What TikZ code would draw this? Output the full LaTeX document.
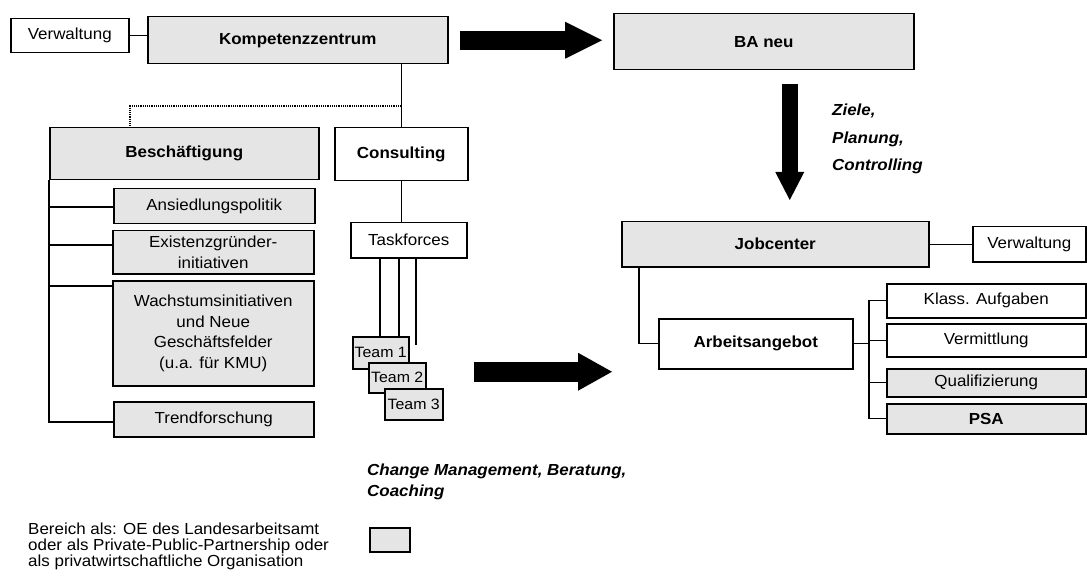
\documentclass[tikz,border=0pt]{standalone}
\usepackage{fontspec}
\setmainfont[FakeStretch=1.06]{Liberation Sans}
\usetikzlibrary{calc,arrows.meta}
\begin{document}
\begin{tikzpicture}[x=1pt,y=-1pt,
  base/.style={draw=black, line width=1.5pt, anchor=north west, inner sep=0pt,
    align=center, font=\fontsize{16}{20.7}\selectfont},
  plainbox/.style={base, fill=white},
  greybox/.style={base, fill=black!10},
  bf/.style={font=\fontsize{16}{20.7}\selectfont\bfseries},
  conn/.style={line width=1.2pt},
  dotline/.style={line width=1.2pt, densely dotted},
  bigarrow/.style args={#1/#2/#3}{line width=#1,
    -{Triangle[width=#2, length=#3, line width=0pt]}},
  note/.style={anchor=north west, inner sep=0pt, align=left},
]
\useasboundingbox (0,0) rectangle (1087,580);

% ---- Kompetenzzentrum side ----
\node[plainbox, minimum width=118pt, minimum height=34pt] (verwA) at (10,18) {Verwaltung};
\node[greybox, bf, minimum width=300pt, minimum height=47pt] (kz) at (147,16) {Kompetenzzentrum};
\node[greybox, bf, minimum width=269pt, minimum height=52pt] (bes) at (49,127) {Beschäftigung};
\node[plainbox, bf, minimum width=133pt, minimum height=53pt] (cons) at (334,127) {Consulting};

\node[greybox, minimum width=201pt, minimum height=35pt] (ans) at (113,188) {Ansiedlungspolitik};
\node[greybox, minimum width=201pt, minimum height=43pt] (exi) at (112,230) {Existenzgründer-\\initiativen};
\node[greybox, minimum width=201pt, minimum height=105pt] (wach) at (112,280)
  {Wachstumsinitiativen\\und Neue\\Geschäftsfelder\\(u.a. für KMU)};
\node[greybox, minimum width=200pt, minimum height=35pt] (trend) at (113,401) {Trendforschung};

\node[plainbox, minimum width=116pt, minimum height=35pt] (task) at (350,222) {Taskforces};
\node[greybox, font=\fontsize{15}{18}\selectfont, minimum width=56pt, minimum height=32pt] (team1) at (352,336) {Team 1};
\node[greybox, font=\fontsize{15}{18}\selectfont, minimum width=57pt, minimum height=30pt] (team2) at (368,362) {Team 2};
\node[greybox, font=\fontsize{15}{18}\selectfont, minimum width=58pt, minimum height=31pt] (team3) at (384,388) {Team 3};

% connectors, left part
\draw[conn] (verwA.east) -- (verwA.east -| kz.west);
\draw[conn] (cons.north) -- (cons.north |- kz.south);
\coordinate (dt) at (130,106);
\draw[dotline] (cons.north |- dt) -- (dt) -- (dt |- bes.north);
\draw[conn] (cons.south) -- (cons.south |- task.north);

\coordinate (busEnd) at (49,422);
\coordinate (bA) at (49,207);
\coordinate (bE) at (49,245);
\coordinate (bW) at (49,286);
\draw[conn] (bes.south west) -- (busEnd) -- (busEnd -| trend.west);
\draw[conn] (bA) -- (bA -| ans.west);
\draw[conn] (bE) -- (bE -| exi.west);
\draw[conn] (bW) -- (bW -| wach.west);

\coordinate (tA) at (380,257);
\coordinate (tB) at (399,257);
\coordinate (tC) at (416,257);
\coordinate (tCend) at (416,345);
\draw[conn] (tA) -- (tA |- team1.north);
\draw[conn] (tB) -- (tB |- team1.north);
\draw[conn] (tC) -- (tCend);

% ---- BA side ----
\node[greybox, bf, minimum width=300pt, minimum height=56pt] (ba) at (613,13) {BA neu};
\node[greybox, bf, minimum width=307pt, minimum height=45pt] (job) at (621,221) {Jobcenter};
\node[plainbox, minimum width=113pt, minimum height=35pt] (verwB) at (972,226) {Verwaltung};
\node[plainbox, bf, minimum width=194pt, minimum height=50pt] (arb) at (658,318) {Arbeitsangebot};
\node[plainbox, minimum width=199pt, minimum height=34pt] (klass) at (886,283) {Klass. Aufgaben};
\node[plainbox, minimum width=199pt, minimum height=33pt] (verm) at (886,323) {Vermittlung};
\node[greybox, minimum width=199pt, minimum height=28pt] (quali) at (886,368) {Qualifizierung};
\node[greybox, bf, minimum width=199pt, minimum height=30pt] (psa) at (886,403) {PSA};

\draw[conn] (job.east) -- (verwB.west);
\coordinate (jv) at (639,266);
\draw[conn] (jv) |- (arb.west);
\coordinate (rb) at (869,299);
\draw[conn] (arb.east) -- (arb.east -| rb);
\draw[conn] (klass.west) -| (rb |- psa.west) -- (psa.west);
\draw[conn] (verm.west) -- (verm.west -| rb);
\draw[conn] (quali.west) -- (quali.west -| rb);

% ---- broad arrows ----
\draw[bigarrow=19pt/37pt/37pt] ($(kz.east)+(11,0)$) -- ($(kz.east -| ba.west)+(-11,0)$);
\draw[bigarrow=16pt/29pt/28pt] ($(ba.south)+(26,14)$) -- ($(ba.south |- job.north)+(26,-21)$);
\draw[bigarrow=20pt/38pt/34pt] ($(team2.east)+(47,-6)$) -- ($(arb.west)+(-46,28)$);

% ---- labels ----
\node[note, font=\fontsize{16}{27.5}\selectfont\bfseries\itshape] (zpc) at (832,104)
  {Ziele,\\Planung,\\Controlling};
\node[note, font=\fontsize{16}{21}\selectfont\bfseries\itshape] (chg) at (367,464)
  {Change Management, Beratung,\\Coaching};
\node[note, font=\fontsize{16}{16}\selectfont] (legtxt) at (28,523)
  {Bereich als: OE des Landesarbeitsamt\\oder als Private-Public-Partnership oder\\als privatwirtschaftliche Organisation};
\node[greybox, minimum width=40pt, minimum height=24pt] (leg) at (369,527) {};
\end{tikzpicture}
\end{document}
